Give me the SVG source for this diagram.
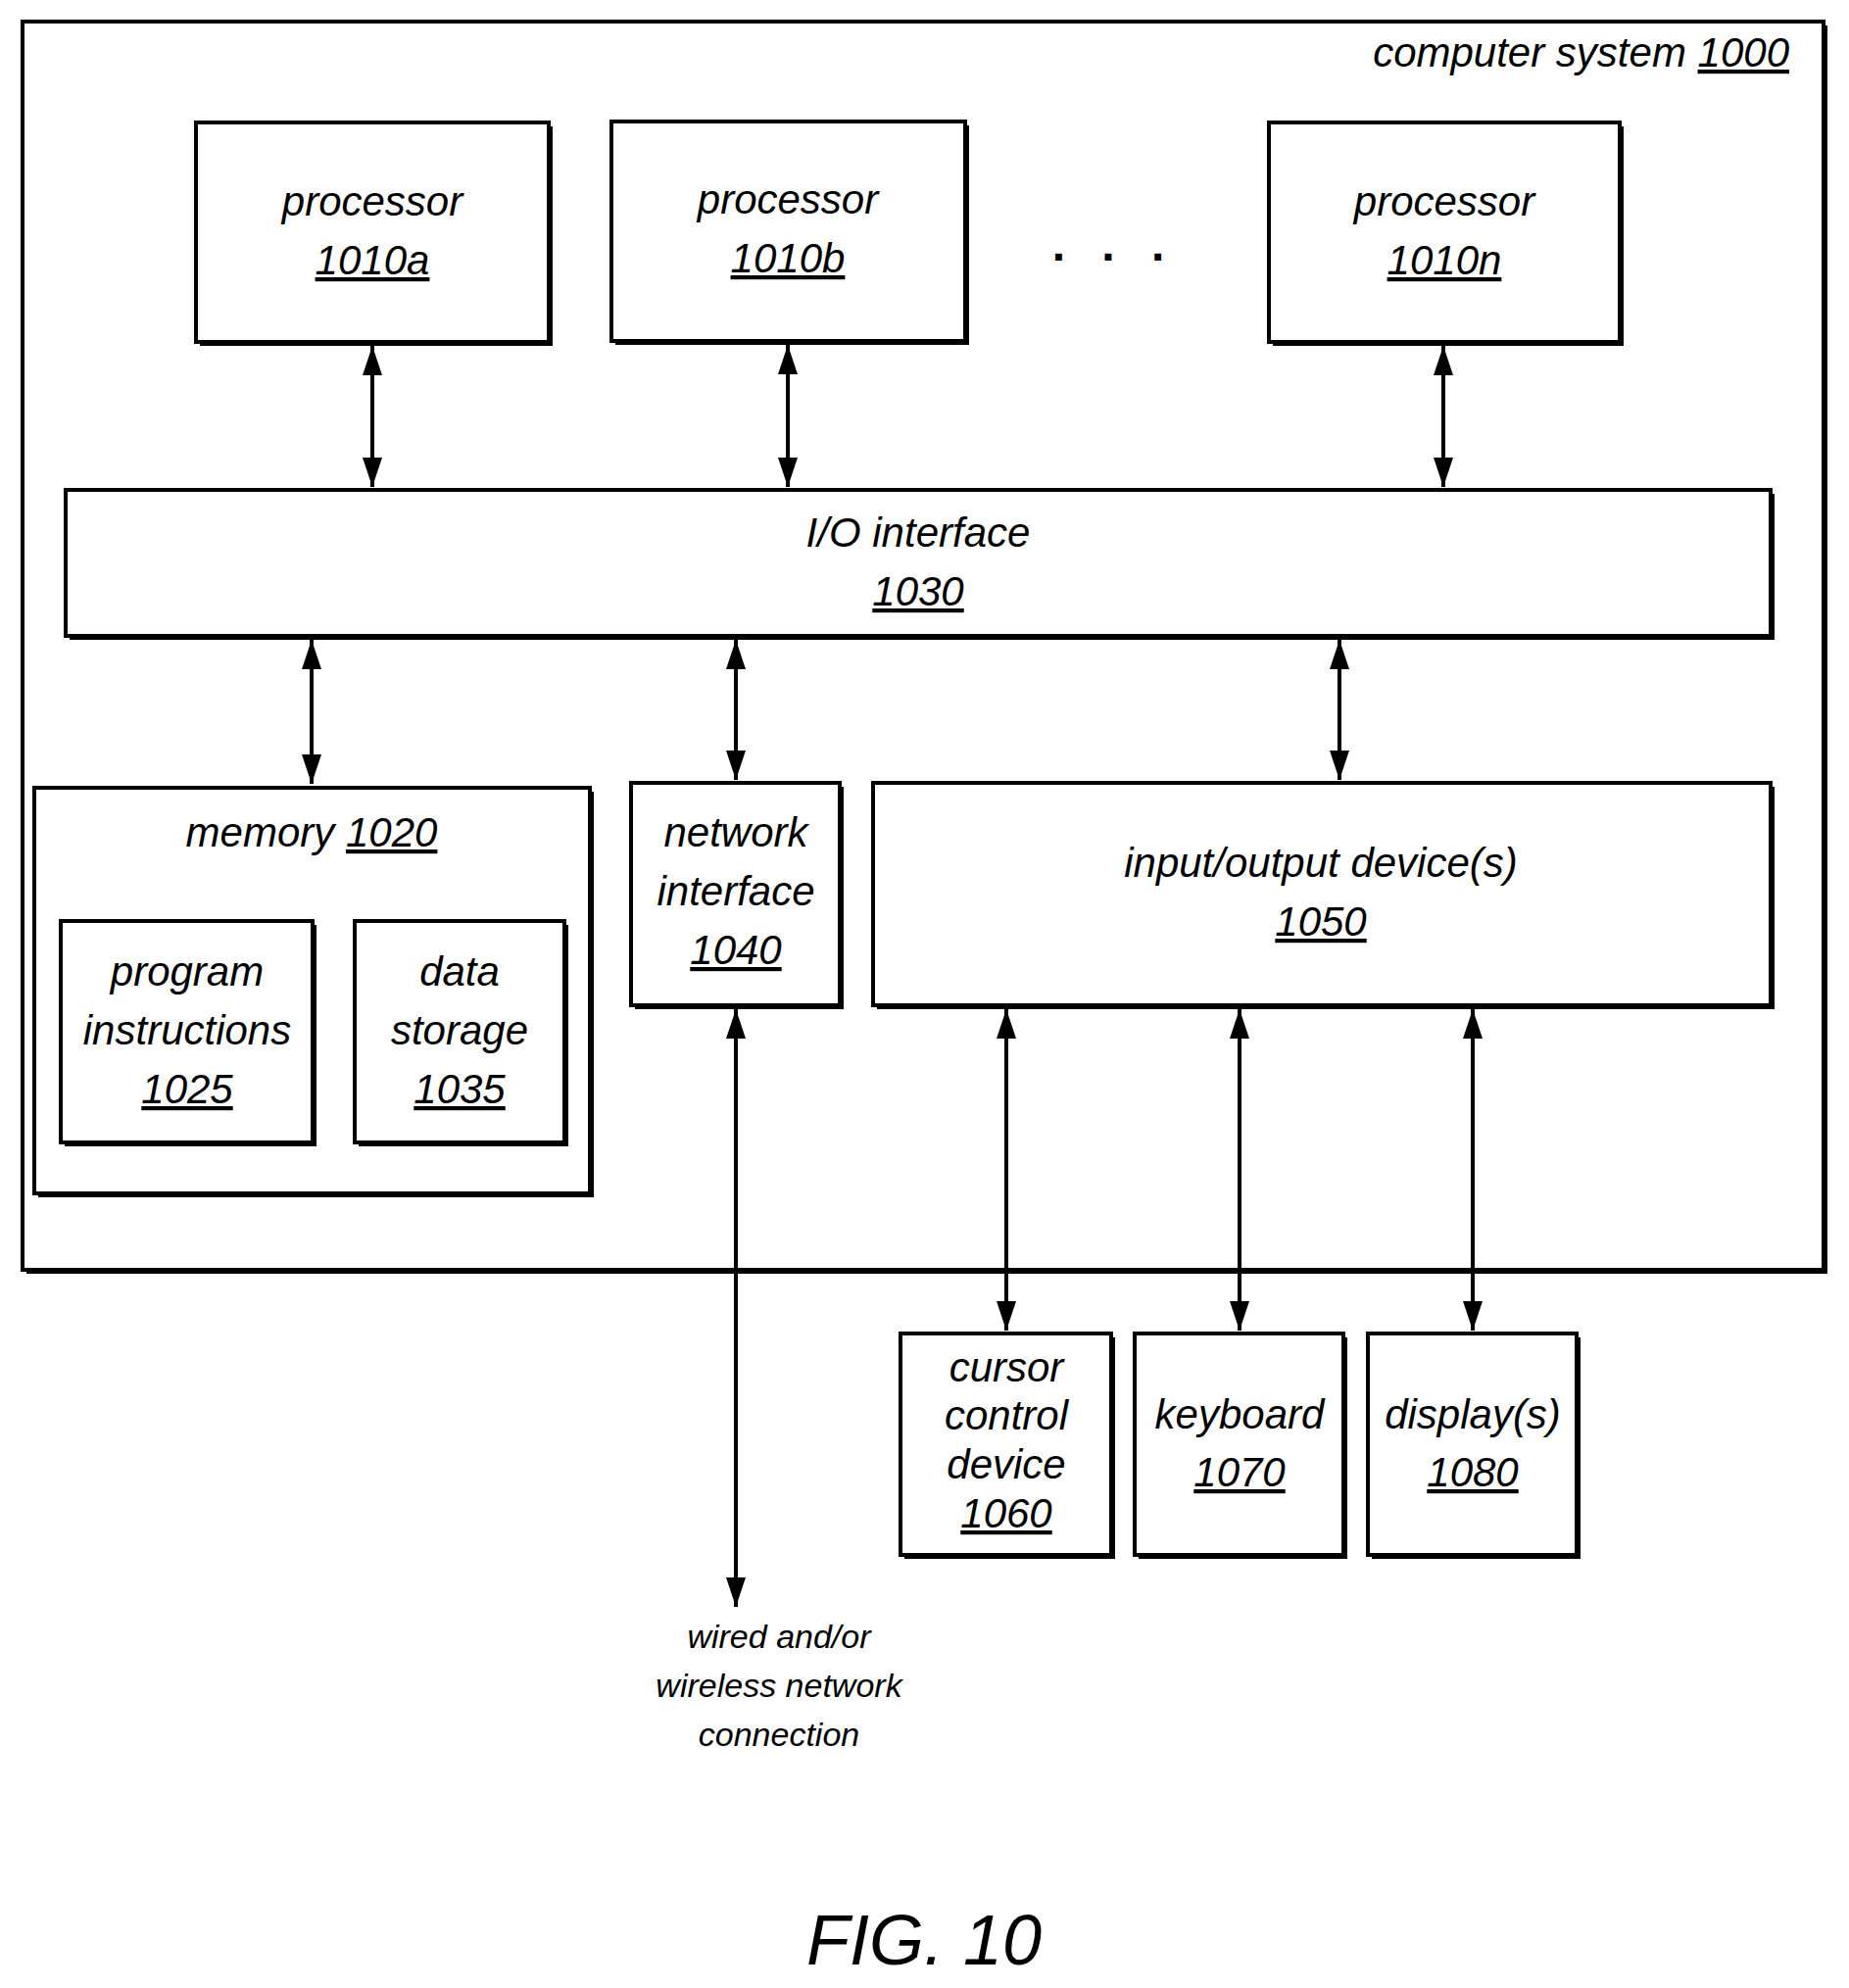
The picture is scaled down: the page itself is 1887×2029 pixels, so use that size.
<svg xmlns="http://www.w3.org/2000/svg" width="1887" height="2029" viewBox="0 0 1887 2029">
<style>
.sh{fill:#000}
.bx{fill:#fff;stroke:#000;stroke-width:4}
text{font-family:"Liberation Sans Narrow","Liberation Sans",Arial,sans-serif;font-style:italic;font-size:42px;fill:#000;text-anchor:middle}
.u{text-decoration:underline}
.sm{font-size:34px}
.fig{font-family:"Liberation Sans",Arial,sans-serif;font-size:72px}
.c{stroke:#000;stroke-width:4;fill:none;marker-start:url(#a);marker-end:url(#a)}
</style>
<defs>
<marker id="a" viewBox="0 0 10 10" refX="10" refY="5" markerWidth="7.5" markerHeight="5" markerUnits="strokeWidth" orient="auto-start-reverse" preserveAspectRatio="none">
<path d="M0,0L10,5L0,10z" fill="#000"/>
</marker>
</defs>
<g id="system">
<rect class="sh" x="27" y="26" width="1838" height="1274"/>
<rect class="bx" x="23" y="22" width="1838" height="1274"/>
<text x="1826" y="68" style="text-anchor:end">computer system <tspan class="u">1000</tspan></text>
</g>
<g id="proc-a">
<rect class="sh" x="204" y="129" width="360" height="224"/>
<rect class="bx" x="200" y="125" width="360" height="224"/>
<text x="380" y="220">processor</text><text x="380" y="280" class="u">1010a</text>
</g>
<g id="proc-b">
<rect class="sh" x="628" y="128" width="361" height="224"/>
<rect class="bx" x="624" y="124" width="361" height="224"/>
<text x="804" y="218">processor</text><text x="804" y="278" class="u">1010b</text>
</g>
<text x="1137" y="266" style="font-style:normal;font-weight:bold;font-size:48px;letter-spacing:12px">. . .</text>
<g id="proc-n">
<rect class="sh" x="1299" y="129" width="358" height="224"/>
<rect class="bx" x="1295" y="125" width="358" height="224"/>
<text x="1474" y="220">processor</text><text x="1474" y="280" class="u">1010n</text>
</g>
<g id="io">
<rect class="sh" x="71" y="504" width="1740" height="149"/>
<rect class="bx" x="67" y="500" width="1740" height="149"/>
<text x="937" y="558">I/O interface</text><text x="937" y="618" class="u">1030</text>
</g>
<g id="memory">
<rect class="sh" x="39" y="808" width="567" height="414"/>
<rect class="bx" x="35" y="804" width="567" height="414"/>
<text x="318" y="864">memory  <tspan class="u">1020</tspan></text>
</g>
<g id="program">
<rect class="sh" x="66" y="944" width="257" height="226"/>
<rect class="bx" x="62" y="940" width="257" height="226"/>
<text x="191" y="1006">program</text><text x="191" y="1066">instructions</text><text x="191" y="1126" class="u">1025</text>
</g>
<g id="data">
<rect class="sh" x="366" y="944" width="214" height="226"/>
<rect class="bx" x="362" y="940" width="214" height="226"/>
<text x="469" y="1006">data</text><text x="469" y="1066">storage</text><text x="469" y="1126" class="u">1035</text>
</g>
<g id="network">
<rect class="sh" x="648" y="803" width="213" height="227"/>
<rect class="bx" x="644" y="799" width="213" height="227"/>
<text x="751" y="864">network</text><text x="751" y="924">interface</text><text x="751" y="984" class="u">1040</text>
</g>
<g id="iodev">
<rect class="sh" x="895" y="803" width="916" height="227"/>
<rect class="bx" x="891" y="799" width="916" height="227"/>
<text x="1348" y="895">input/output device(s)</text><text x="1348" y="955" class="u">1050</text>
</g>
<g id="cursor">
<rect class="sh" x="923" y="1365" width="215" height="226"/>
<rect class="bx" x="919" y="1361" width="215" height="226"/>
<text x="1027" y="1410">cursor</text><text x="1027" y="1459">control</text><text x="1027" y="1509">device</text><text x="1027" y="1559" class="u">1060</text>
</g>
<g id="keyboard">
<rect class="sh" x="1162" y="1365" width="213" height="226"/>
<rect class="bx" x="1158" y="1361" width="213" height="226"/>
<text x="1265" y="1458">keyboard</text><text x="1265" y="1517" class="u">1070</text>
</g>
<g id="display">
<rect class="sh" x="1400" y="1365" width="213" height="226"/>
<rect class="bx" x="1396" y="1361" width="213" height="226"/>
<text x="1503" y="1458">display(s)</text><text x="1503" y="1517" class="u">1080</text>
</g>
<g id="connectors">
<line class="c" x1="380" y1="353" x2="380" y2="497"/>
<line class="c" x1="804" y1="352" x2="804" y2="497"/>
<line class="c" x1="1473" y1="353" x2="1473" y2="497"/>
<line class="c" x1="318" y1="653" x2="318" y2="800"/>
<line class="c" x1="751" y1="653" x2="751" y2="796"/>
<line class="c" x1="1367" y1="653" x2="1367" y2="796"/>
<line class="c" x1="751" y1="1030" x2="751" y2="1640"/>
<line class="c" x1="1027" y1="1030" x2="1027" y2="1358"/>
<line class="c" x1="1265" y1="1030" x2="1265" y2="1358"/>
<line class="c" x1="1503" y1="1030" x2="1503" y2="1358"/>
</g>
<g id="label-net">
<text class="sm" x="795" y="1682">wired and/or</text><text class="sm" x="795" y="1732">wireless network</text><text class="sm" x="795" y="1782">connection</text>
</g>
<text class="fig" x="943" y="2005">FIG. 10</text>
</svg>
